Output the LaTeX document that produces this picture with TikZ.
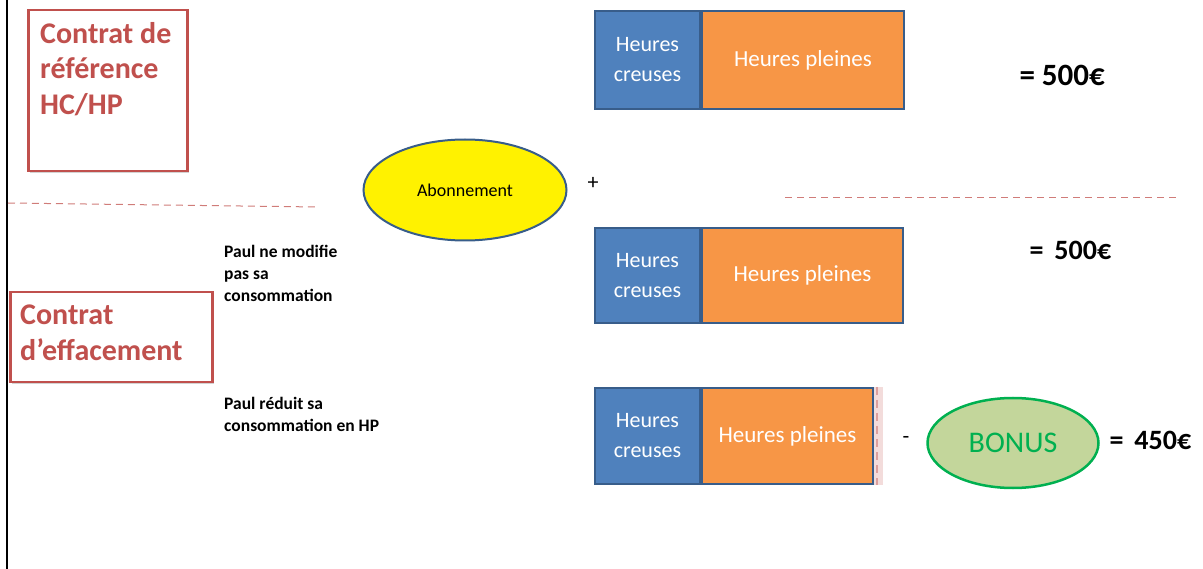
\documentclass[tikz,border=0pt]{standalone}
\usepackage{fontspec}
\setmainfont{Carlito}
\usetikzlibrary{positioning,shapes.geometric,shadows}
\definecolor{hcblue}{HTML}{4F81BD}
\definecolor{hcline}{HTML}{385D8A}
\definecolor{hporange}{HTML}{F79646}
\definecolor{ctred}{HTML}{C0504D}
\definecolor{bonusfill}{HTML}{C3D69B}
\definecolor{bonusline}{HTML}{00B050}
\tikzset{
  contrat/.style={draw=ctred, line width=2.5pt, fill=white, drop shadow={opacity=0.35, shadow xshift=2pt, shadow yshift=-2pt},
    anchor=north west, inner sep=0pt},
  contrattxt/.style={text=ctred, font=\bfseries\fontsize{30}{35.5}\selectfont, align=left, anchor=north west, inner sep=0pt},
  hcbox/.style={draw=hcline, line width=2pt, fill=hcblue, text=white, font=\fontsize{22}{30}\selectfont,
    align=center, minimum width=105pt, minimum height=98pt, inner sep=0pt},
  hpbox/.style={draw=hcline, line width=2pt, fill=hporange, text=white, font=\fontsize{23}{29}\selectfont,
    minimum height=98pt, inner sep=0pt},
  total/.style={font=\bfseries\fontsize{31}{34}\selectfont, anchor=west},
  remarque/.style={font=\bfseries\fontsize{17.5}{22}\selectfont, align=left, anchor=north west, inner sep=0pt},
  sep/.style={ctred!75, dashed, dash pattern=on 7pt off 5pt, line width=1pt}
}
\begin{document}
\begin{tikzpicture}[x=1pt,y=-1pt]
\useasboundingbox (0,0) rectangle (1203,569);
\draw[line width=2pt] (7,0) -- (7,569);

% contrats
\node[contrat, minimum width=159pt, minimum height=161pt] (ref) at (27,9) {};
\node[contrattxt] (reftxt) at (40,22) {Contrat de\\référence\\HC/HP};
\node[contrat, minimum width=202pt, minimum height=90pt] (eff) at (9,291) {};
\node[contrattxt] (efftxt) at (20,305) {Contrat\\d’effacement};

\draw[sep] (8,203) -- (318,207);
\draw[sep] (785,198) -- (1180,198);

% abonnement
\node[ellipse, draw=hcline, line width=2pt, fill=yellow, minimum width=203pt, minimum height=101pt,
  font=\fontsize{18}{20}\selectfont] (abo) at (465,190) {Abonnement};
\node[font=\fontsize{22}{22}\selectfont] (plus) at (593,183) {+};

% barres
\node[hcbox, anchor=north west] (hc1) at (594,10) {Heures\\creuses};
\node[hpbox, right=0pt of hc1, minimum width=202pt] (hp1) {Heures pleines};
\node[total] (tot1) at (1016,75) {= 500€};

\node[hcbox, anchor=north west, minimum height=95pt] (hc2) at (594,227) {Heures\\creuses};
\node[hpbox, right=0pt of hc2, minimum width=201pt, minimum height=95pt] (hp2) {Heures pleines};
\node[total, font=\bfseries\fontsize{28}{30}\selectfont] (tot2) at (1026,250) {=\, 500€};

\node[hcbox, anchor=north west, minimum height=96pt] (hc3) at (594,387) {Heures\\creuses};
\node[hpbox, right=0pt of hc3, minimum width=171pt, minimum height=96pt] (hp3) {Heures pleines};
\fill[ctred!20] (hp3.north east) rectangle ([xshift=9pt]hp3.south east);
\draw[ctred!55, line width=2.5pt, dash pattern=on 8pt off 5pt] ([xshift=3pt]hp3.north east) -- ([xshift=3pt]hp3.south east);

\node[font=\fontsize{22}{22}\selectfont] (moins) at (906,440) {-};
\node[ellipse, draw=bonusline, line width=2.5pt, fill=bonusfill, minimum width=171pt, minimum height=90pt,
  text=bonusline, font=\fontsize{30}{32}\selectfont] (bonus) at (1013,443) {BONUS};
\node[total, font=\bfseries\fontsize{28}{30}\selectfont] (tot3) at (1106,440) {=\, 450€};

% comportements
\node[remarque] (p1) at (224,245) {Paul ne modifie\\pas sa\\consommation};
\node[remarque] (p2) at (224,397) {Paul réduit sa\\consommation en HP};
\end{tikzpicture}
\end{document}
